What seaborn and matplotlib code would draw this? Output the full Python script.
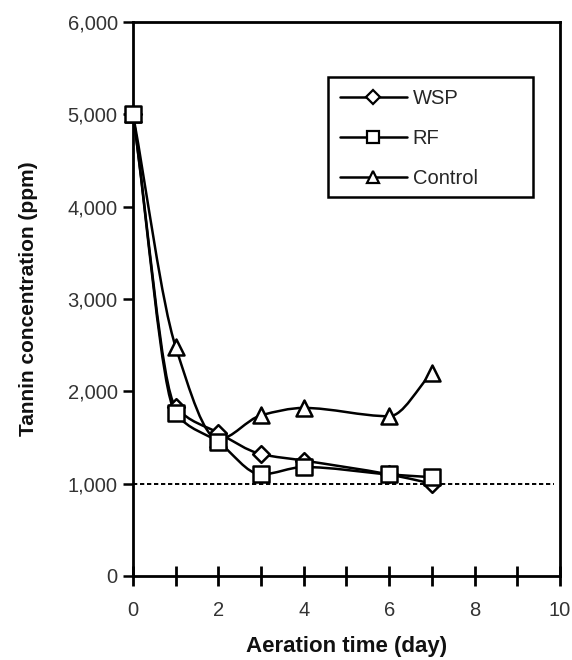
import numpy as np
import pandas as pd
import matplotlib
matplotlib.use("Agg")
import matplotlib.pyplot as plt
from matplotlib.path import Path
from matplotlib.patches import PathPatch, Rectangle
from matplotlib.lines import Line2D
from matplotlib.ticker import FuncFormatter, MultipleLocator
import seaborn as sns

# Tannin concentration (ppm) over aeration time (day)
days = [0, 1, 2, 3, 4, 6, 7]
wsp = [5000, 1830, 1550, 1320, 1250, 1100, 1000]
rf = [5000, 1760, 1450, 1100, 1180, 1100, 1070]
control = [5000, 2480, 1480, 1740, 1820, 1730, 2200]
series_names = ["WSP", "RF", "Control"]
threshold = 1000

df = pd.DataFrame({
    "day": days * 3,
    "ppm": wsp + rf + control,
    "treatment": sum([[n] * len(days) for n in series_names], []),
})

sns.set_theme(style="white")
plt.rcParams["font.family"] = ["Liberation Sans", "DejaVu Sans"]

fig = plt.figure(figsize=(5.72, 6.6), dpi=100)
ax = fig.add_axes([0.2325, 0.1273, 0.7465, 0.8394])

markers = {"WSP": "D", "RF": "s", "Control": "^"}
msizes = {"WSP": 8.5, "RF": 11.0, "Control": 11.5}
zorders = {"Control": 3, "WSP": 4, "RF": 5}
LW = 1.8


def monotone_slopes(x, y):
    """Shape-preserving (Fritsch-Carlson) tangents at each point."""
    h = np.diff(x)
    d = np.diff(y) / h
    m = np.zeros_like(y)
    m[0], m[-1] = d[0], d[-1]
    for k in range(1, len(x) - 1):
        if d[k - 1] * d[k] <= 0:
            m[k] = 0.0
        else:
            w1 = 2 * h[k] + h[k - 1]
            w2 = h[k] + 2 * h[k - 1]
            m[k] = (w1 + w2) / (w1 / d[k - 1] + w2 / d[k])
    return m


def smooth_path(xs, ys):
    """Cubic Bezier path through the data points."""
    x = np.asarray(xs, float)
    y = np.asarray(ys, float)
    m = monotone_slopes(x, y)
    verts = [(x[0], y[0])]
    codes = [Path.MOVETO]
    for i in range(len(x) - 1):
        h = x[i + 1] - x[i]
        verts += [(x[i] + h / 3, y[i] + m[i] * h / 3),
                  (x[i + 1] - h / 3, y[i + 1] - m[i + 1] * h / 3),
                  (x[i + 1], y[i + 1])]
        codes += [Path.CURVE4] * 3
    return Path(verts, codes)


for name in series_names:
    sub = df[df["treatment"] == name]
    # smoothed connecting curve
    ax.add_patch(PathPatch(smooth_path(sub["day"].values, sub["ppm"].values),
                           facecolor="none", edgecolor="black", lw=LW,
                           zorder=2))
    # open markers at the measured points
    sns.scatterplot(data=sub, x="day", y="ppm", marker=markers[name],
                    s=msizes[name] ** 2, color="white", edgecolor="black",
                    linewidth=LW, zorder=zorders[name], legend=False, ax=ax,
                    clip_on=False)

# 1,000 ppm reference line
ax.plot([0, 9.85], [threshold, threshold], ls=(0, (2.2, 1.4)), color="black",
        lw=1.4, zorder=1)

ax.set_xlim(0, 10)
ax.set_ylim(0, 6000)
ax.xaxis.set_major_locator(MultipleLocator(2))
ax.xaxis.set_minor_locator(MultipleLocator(1))
ax.yaxis.set_major_locator(MultipleLocator(1000))
ax.yaxis.set_major_formatter(FuncFormatter(lambda v, p: f"{int(v):,}"))

for s in ax.spines.values():
    s.set_visible(True)
    s.set_color("black")
    s.set_linewidth(2.0)

ax.tick_params(axis="x", which="both", direction="inout", length=14.5,
               width=2.0, color="black", labelsize=14.5, labelcolor="#333333",
               pad=11, bottom=True)
ax.tick_params(axis="y", which="major", direction="out", length=7,
               width=1.8, color="black", labelsize=14.5, labelcolor="#333333",
               pad=4, left=True)

ax.set_xlabel("Aeration time (day)", fontsize=16, fontweight="bold",
              labelpad=11, color="#111111")
ax.set_ylabel("Tannin concentration (ppm)", fontsize=15, fontweight="bold",
              labelpad=21, color="#111111")

# legend with a boxed frame
handles = [Line2D([0], [0], color="black", lw=LW, marker=markers[n],
                  ms=msizes[n] * 0.8, mfc="white", mec="black", mew=1.6)
           for n in series_names]
box_x0, box_x1, box_y0, box_y1 = 0.4567, 0.9368, 0.684, 0.9007
ax.add_patch(Rectangle((box_x0, box_y0), box_x1 - box_x0, box_y1 - box_y0,
                       transform=ax.transAxes, facecolor="white",
                       edgecolor="black", lw=1.8, zorder=6))
leg = ax.legend(handles, series_names, loc="upper left",
                bbox_to_anchor=(box_x0, box_y1), fontsize=14.5, frameon=False,
                handlelength=3.3, labelspacing=1.05, borderpad=0.6,
                borderaxespad=0.0, handletextpad=0.3)
leg.set_zorder(7)

fig.savefig("out.png", dpi=100, facecolor="white")
